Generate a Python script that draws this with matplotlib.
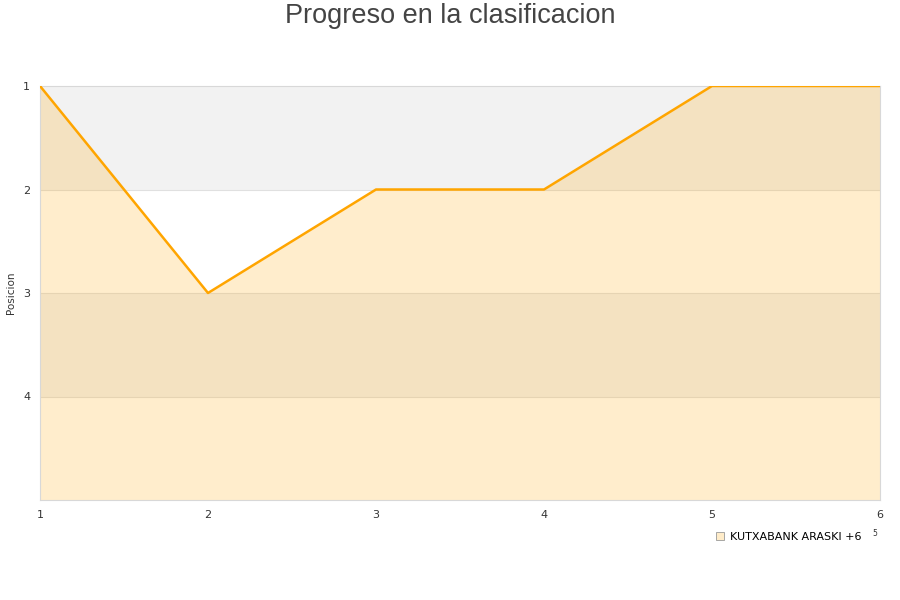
import matplotlib
matplotlib.use('Agg')
import matplotlib.pyplot as plt
from matplotlib.lines import Line2D

jornadas = [1, 2, 3, 4, 5, 6]
posiciones = [1, 3, 2, 2, 1, 1]
equipo = 'KUTXABANK ARASKI +6'
y_ticks = [1, 2, 3, 4]

fig = plt.figure(figsize=(9, 6), dpi=100, facecolor='w')
ax = fig.add_axes([40 / 900, 100 / 600, 840 / 900, 414 / 600])

# bandas alternas de fondo
ax.axhspan(1, 2, color='#f2f2f2', zorder=0, lw=0)
ax.axhspan(3, 4, color='#f2f2f2', zorder=0, lw=0)
for y in [2, 3, 4]:
    ax.axhline(y, color='#e0e0e0', lw=0.8, zorder=1)

ax.fill_between(jornadas, posiciones, 5, color='#ffa500', alpha=0.2, lw=0, zorder=2)
ax.plot(jornadas, posiciones, color='#ffa500', lw=1.8, zorder=3)

ax.set_xlim(1, 6)
ax.set_ylim(5, 1)
ax.set_xticks(jornadas)
ax.set_yticks(y_ticks)
ax.tick_params(axis='y', length=0, labelsize=8, colors='#333333', pad=7)
ax.tick_params(axis='x', length=0, labelsize=8, colors='#333333', pad=7)
for s in ax.spines.values():
    s.set_color('#d8d8d8')
    s.set_linewidth(0.8)
ax.set_ylabel('Posicion', fontsize=7.5, color='#333333')
ax.yaxis.set_label_coords(-0.029, 0.5)

fig.suptitle('Progreso en la clasificacion', fontsize=19.5, color='#444444',
             family='Liberation Sans', y=0.995)

h = Line2D([], [], marker='s', ls='none', markersize=6, markerfacecolor='#ffecc9',
           markeredgecolor='#999999', markeredgewidth=0.6)
fig.legend([h], [equipo], loc='center left', bbox_to_anchor=(0.783, 0.105),
           frameon=False, fontsize=8, handletextpad=0.4, handlelength=1)
fig.text(0.969, 0.107, '5', fontsize=5.5, color='#333333')

plt.savefig('out.png', dpi=100)
